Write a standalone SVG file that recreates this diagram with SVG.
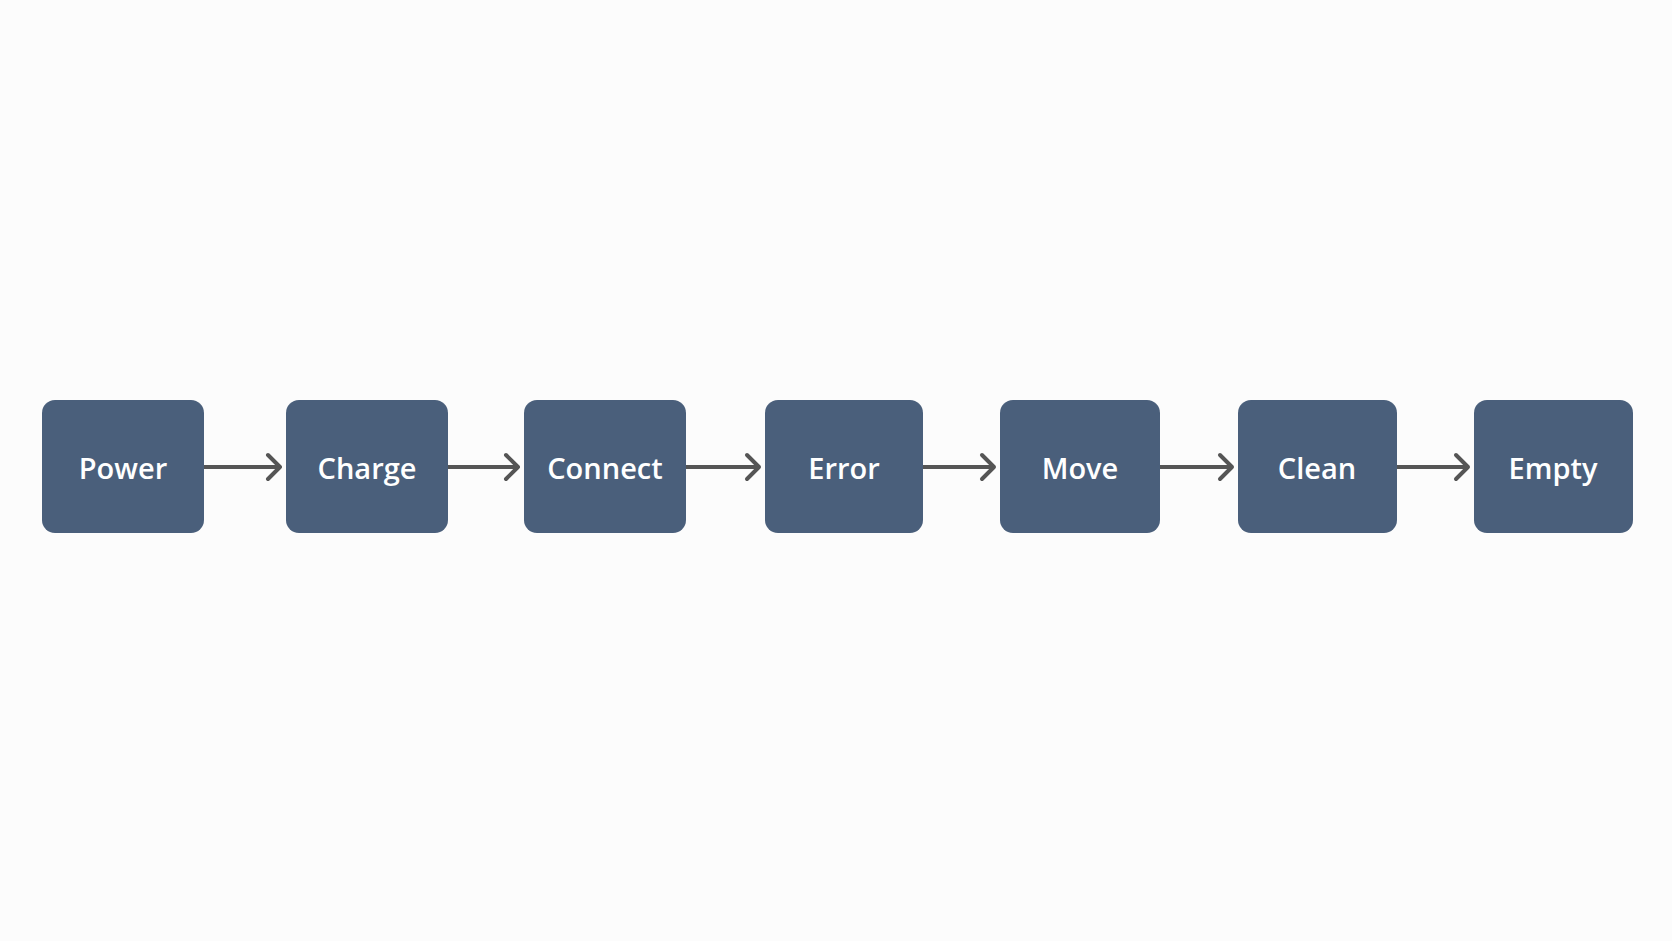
<svg xmlns="http://www.w3.org/2000/svg" width="1672" height="941" viewBox="0 0 1672 941">
<style>
.n{fill:#4a5f7b}
.t{fill:#fff;font-family:"Open Sans","Liberation Sans",sans-serif;font-weight:600;font-size:29px;text-anchor:middle;dominant-baseline:central}
.c{stroke:#555;stroke-width:4;fill:none;stroke-linecap:round;stroke-linejoin:round}
</style>
<rect width="1672" height="941" fill="#fcfcfc"/>
<g id="connectors" class="c">
<path d="M204 467H280M268 455L280 467L268 479"/>
<path d="M448 467H518M506 455L518 467L506 479"/>
<path d="M686 467H759M747 455L759 467L747 479"/>
<path d="M923 467H994M982 455L994 467L982 479"/>
<path d="M1160 467H1232M1220 455L1232 467L1220 479"/>
<path d="M1397 467H1468M1456 455L1468 467L1456 479"/>
</g>
<g id="power"><rect class="n" x="42" y="400" width="162" height="133" rx="13"/><text class="t" x="123" y="467">Power</text></g>
<g id="charge"><rect class="n" x="286" y="400" width="162" height="133" rx="13"/><text class="t" x="367" y="467">Charge</text></g>
<g id="connect"><rect class="n" x="524" y="400" width="162" height="133" rx="13"/><text class="t" x="605" y="467">Connect</text></g>
<g id="error"><rect class="n" x="765" y="400" width="158" height="133" rx="13"/><text class="t" x="844" y="467">Error</text></g>
<g id="move"><rect class="n" x="1000" y="400" width="160" height="133" rx="13"/><text class="t" x="1080" y="467">Move</text></g>
<g id="clean"><rect class="n" x="1238" y="400" width="159" height="133" rx="13"/><text class="t" x="1317" y="467">Clean</text></g>
<g id="empty"><rect class="n" x="1474" y="400" width="159" height="133" rx="13"/><text class="t" x="1553" y="467">Empty</text></g>
</svg>
